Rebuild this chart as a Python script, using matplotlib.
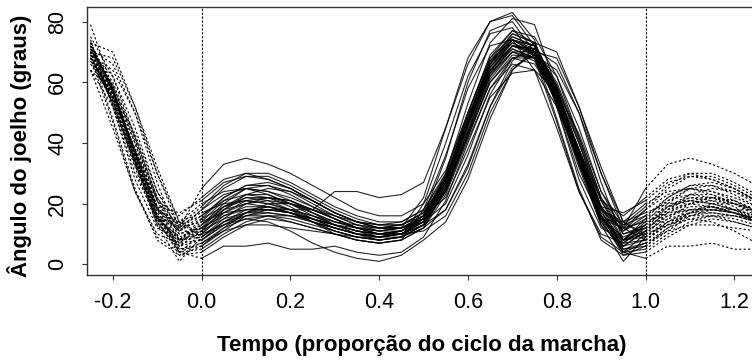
import numpy as np
import matplotlib
matplotlib.use("Agg")
import matplotlib.pyplot as plt

############################################################################## Data

# knee angle (degrees) sampled at 20 points of the gait cycle, one row per child
cycle_time = [0.00, 0.05, 0.10, 0.15, 0.20, 0.25, 0.30, 0.35, 0.40, 0.45,
              0.50, 0.55, 0.60, 0.65, 0.70, 0.75, 0.80, 0.85, 0.90, 0.95]

knee_angle = [
    [8, 14, 18, 19, 17, 14, 11, 9, 8, 9, 13, 24, 44, 63, 74, 72, 58, 37, 16, 6],
    [12, 19, 23, 23, 20, 16, 13, 11, 10, 11, 15, 27, 47, 66, 76, 73, 58, 36, 16, 7],
    [18, 25, 29, 29, 26, 22, 18, 15, 13, 13, 17, 28, 46, 64, 72, 70, 57, 38, 19, 11],
    [25, 33, 35, 33, 30, 26, 22, 18, 16, 16, 20, 31, 50, 68, 77, 75, 62, 42, 22, 12],
    [2, 6, 6, 7, 5, 5, 6, 4, 3, 4, 9, 21, 40, 58, 68, 68, 56, 38, 18, 4],
    [14, 17, 18, 18, 18, 18, 24, 24, 22, 23, 27, 45, 66, 80, 82, 72, 52, 30, 15, 12],
    [10, 13, 15, 14, 11, 7, 4, 2, 1, 3, 8, 14, 28, 48, 64, 71, 66, 50, 27, 8],
    [6, 11, 16, 18, 17, 15, 13, 11, 10, 11, 16, 35, 60, 77, 80, 70, 48, 25, 8, 3],
    [15, 22, 26, 26, 23, 19, 15, 12, 11, 12, 22, 45, 68, 80, 83, 74, 52, 28, 12, 8],
    [9, 15, 20, 22, 21, 18, 15, 12, 10, 10, 11, 16, 30, 50, 64, 70, 68, 52, 30, 14],
    [20, 24, 25, 24, 22, 19, 16, 13, 12, 12, 15, 25, 44, 62, 70, 67, 54, 35, 18, 14],
    [11, 18, 22, 22, 20, 17, 14, 12, 11, 12, 16, 28, 48, 66, 73, 70, 56, 34, 15, 6],
    [7, 12, 15, 16, 15, 13, 11, 9, 8, 9, 13, 25, 45, 63, 71, 68, 53, 33, 14, 5],
    [16, 21, 23, 22, 19, 15, 12, 10, 9, 10, 14, 20, 36, 56, 68, 70, 62, 45, 24, 13],
    [13, 20, 25, 26, 24, 20, 16, 13, 11, 11, 14, 24, 42, 60, 69, 68, 57, 40, 21, 10],
    [4, 9, 13, 15, 14, 12, 10, 8, 7, 8, 12, 23, 41, 58, 66, 64, 52, 34, 15, 3],
    [19, 26, 30, 30, 27, 23, 19, 16, 14, 14, 18, 30, 50, 68, 75, 72, 57, 36, 18, 13],
    [10, 16, 19, 19, 17, 14, 11, 9, 8, 9, 20, 40, 62, 76, 78, 68, 47, 24, 9, 4],
    [12, 17, 20, 21, 20, 18, 16, 14, 13, 14, 18, 29, 47, 64, 72, 71, 60, 42, 22, 10],
    [17, 20, 21, 20, 18, 15, 12, 10, 9, 10, 14, 27, 48, 67, 74, 70, 54, 33, 15, 14],
    [8, 13, 17, 19, 18, 16, 13, 11, 9, 9, 12, 18, 33, 52, 65, 69, 64, 50, 30, 12],
    [14, 21, 25, 24, 21, 17, 13, 10, 8, 9, 13, 26, 47, 66, 75, 72, 57, 35, 15, 8],
    [11, 15, 17, 17, 16, 14, 12, 10, 9, 10, 15, 30, 53, 73, 81, 79, 58, 34, 13, 6],
    [22, 28, 30, 28, 25, 21, 17, 14, 12, 12, 15, 25, 43, 60, 68, 66, 55, 38, 21, 16],
    [5, 10, 14, 16, 16, 15, 13, 11, 10, 11, 15, 27, 46, 64, 72, 70, 56, 36, 16, 4],
    [13, 19, 22, 21, 18, 14, 10, 8, 7, 8, 18, 36, 58, 72, 74, 64, 45, 24, 10, 7],
    [9, 14, 17, 18, 17, 15, 13, 12, 12, 13, 17, 28, 46, 63, 70, 68, 55, 37, 19, 8],
    [15, 19, 21, 20, 18, 16, 14, 13, 12, 13, 16, 22, 38, 55, 63, 64, 57, 43, 24, 11],
    [6, 12, 17, 20, 20, 18, 15, 12, 10, 10, 13, 24, 43, 62, 72, 71, 59, 40, 19, 5],
    [12, 16, 18, 18, 17, 15, 13, 11, 10, 11, 15, 28, 50, 69, 77, 73, 57, 35, 15, 9],
    [18, 23, 25, 23, 20, 17, 14, 12, 11, 12, 16, 29, 49, 67, 74, 70, 55, 34, 16, 12],
    [10, 17, 21, 22, 21, 18, 15, 12, 10, 10, 13, 18, 32, 52, 67, 73, 70, 52, 32, 14],
    [7, 11, 13, 13, 12, 11, 10, 9, 9, 11, 16, 29, 48, 65, 72, 69, 54, 34, 14, 4],
    [16, 22, 26, 27, 25, 21, 17, 14, 12, 12, 15, 26, 46, 65, 74, 72, 58, 37, 18, 11],
    [11, 18, 23, 25, 24, 21, 17, 14, 12, 12, 14, 24, 42, 61, 70, 70, 59, 41, 21, 8],
    [9, 14, 16, 16, 14, 12, 10, 8, 7, 8, 12, 25, 46, 65, 73, 69, 53, 32, 13, 1],
    [13, 18, 20, 19, 17, 14, 12, 10, 10, 11, 15, 28, 48, 66, 74, 71, 57, 37, 17, 8],
    [21, 27, 29, 28, 25, 21, 17, 14, 13, 13, 17, 28, 47, 64, 71, 68, 55, 37, 19, 17],
    [8, 13, 16, 17, 16, 14, 12, 10, 9, 10, 14, 27, 48, 67, 76, 73, 58, 36, 16, 7],
]

x_ticks = [-0.2, 0.0, 0.2, 0.4, 0.6, 0.8, 1.0, 1.2]
y_ticks = [0, 20, 40, 60, 80]

############################################################################## Plot

plt.rcParams['font.family'] = ['Liberation Sans', 'DejaVu Sans']

t = np.array(cycle_time)
# periodic extension: last quarter of the cycle before 0, first quarter after 1
t_ext = np.concatenate([t[15:] - 1, t, t[:6] + 1])

fig = plt.figure(figsize=(7.52, 3.63), dpi=100)
ax = fig.add_axes([87 / 752, 1 - 275 / 363, 669.5 / 752, 268.3 / 363])

for row in knee_angle:
    y = np.array(row, dtype=float)
    y_ext = np.concatenate([y[15:], y, y[:6]])
    # dotted outside one cycle, solid inside it
    ax.plot(t_ext[:6], y_ext[:6], color='black', lw=0.8,
            linestyle=(0, (2, 2)))
    ax.plot(t_ext[25:], y_ext[25:], color='black', lw=0.8,
            linestyle=(0, (2, 2)))
    ax.plot(t_ext[5:26], y_ext[5:26], color='black', lw=0.8, alpha=0.85)

for xv in (0.0, 1.0):
    ax.axvline(xv, color='black', lw=0.8, linestyle=(0, (2, 1.5)))

ax.set_xlim(-0.258, 1.25)
ax.set_ylim(-3.5, 84.9)
ax.set_xticks(x_ticks)
ax.set_xticklabels(['-0.2', '0.0', '0.2', '0.4', '0.6', '0.8', '1.0', '1.2'])
ax.set_yticks(y_ticks)
ax.set_yticklabels([str(v) for v in y_ticks], rotation=90, va='center')
ax.tick_params(axis='both', length=3.5, width=0.8, labelsize=15.5,
               color='#333333')
ax.tick_params(axis='x', pad=9)
ax.tick_params(axis='y', pad=10)
for s in ax.spines.values():
    s.set_color('#333333')
    s.set_linewidth(1.0)

fig.text(422 / 752, 1 - 346 / 363, 'Tempo (proporção do ciclo da marcha)',
         ha='center', va='center', fontsize=16, fontweight='bold')
fig.text(20 / 752, 1 - 146 / 363, 'Ângulo do joelho (graus)',
         ha='center', va='center', rotation=90, fontsize=16,
         fontweight='bold')

plt.savefig('out.png', dpi=100)
plt.close()
